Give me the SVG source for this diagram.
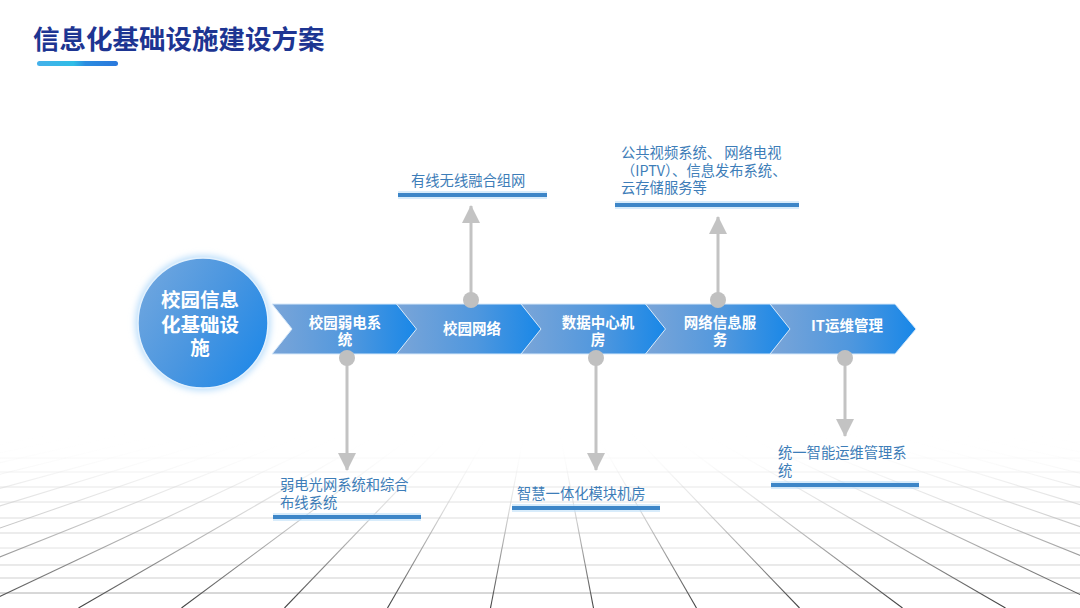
<svg xmlns="http://www.w3.org/2000/svg" width="1080" height="608" viewBox="0 0 1080 608">
<defs>
<style>
.title{font-family:"Noto Sans CJK SC","Liberation Sans",sans-serif;font-weight:700;font-size:26.5px;fill:#1d3592}
.ctext{font-family:"Noto Sans CJK SC","Liberation Sans",sans-serif;font-weight:700;font-size:19.5px;fill:#fff;text-anchor:middle}
.chtext{font-family:"Noto Sans CJK SC","Liberation Sans",sans-serif;font-weight:700;font-size:14.5px;fill:#fff;text-anchor:middle}
.label{font-family:"Noto Sans CJK SC","Liberation Sans",sans-serif;font-size:14.3px;fill:#3d7db8}
.uline{stroke:#3d86c8;stroke-width:4}
.uglow{stroke:#bfe0fa;stroke-width:8;opacity:0.6}
.conn{stroke:#c3c3c3;stroke-width:3;fill:none}
.dot{fill:#c0c0c0}
.vg{stroke:url(#vgrad);stroke-width:1.1;fill:none}
.hg{stroke:#cfcfcf;stroke-width:1;fill:none}
.chev{fill:url(#chevGrad);stroke:#d7e9fa;stroke-width:1}
</style>
<linearGradient id="vgrad" gradientUnits="userSpaceOnUse" x1="0" y1="430" x2="0" y2="608">
<stop offset="0" stop-color="#ffffff" stop-opacity="0"/>
<stop offset="0.45" stop-color="#c8c8c8" stop-opacity="0.7"/>
<stop offset="1" stop-color="#3d3d3d"/>
</linearGradient>
<linearGradient id="hfade" x1="0" y1="0" x2="0" y2="1">
<stop offset="0" stop-color="#fff" stop-opacity="1"/>
<stop offset="1" stop-color="#fff" stop-opacity="0"/>
</linearGradient>
<linearGradient id="barGrad" x1="0" y1="0" x2="1" y2="0">
<stop offset="0" stop-color="#45b0ea"/>
<stop offset="0.45" stop-color="#2fbde6"/>
<stop offset="0.6" stop-color="#2b8ce0"/>
<stop offset="1" stop-color="#2a78dc"/>
</linearGradient>
<linearGradient id="circGrad" x1="0" y1="0.2" x2="1" y2="0.8">
<stop offset="0" stop-color="#6fa6df"/>
<stop offset="0.5" stop-color="#4a96e0"/>
<stop offset="1" stop-color="#1e88e8"/>
</linearGradient>
<linearGradient id="chevGrad" x1="0" y1="0" x2="1" y2="0">
<stop offset="0" stop-color="#7aa5d8"/>
<stop offset="0.55" stop-color="#4f97de"/>
<stop offset="1" stop-color="#1787e8"/>
</linearGradient>
<filter id="glow" x="-30%" y="-30%" width="160%" height="160%">
<feGaussianBlur stdDeviation="3"/>
</filter>
<marker id="ah" markerUnits="userSpaceOnUse" markerWidth="18" markerHeight="18" viewBox="0 0 18 18" refX="17" refY="9" orient="auto">
<path d="M0,0 L18,9 L0,18 Z" fill="#c3c3c3"/>
</marker>
</defs>
<rect width="1080" height="608" fill="#ffffff"/>

<g id="grid">
<g class="hg">
<line x1="0" y1="458" x2="1080" y2="458" opacity="0.25"/>
<line x1="0" y1="472" x2="1080" y2="472" opacity="0.35"/>
<line x1="0" y1="487" x2="1080" y2="487" opacity="0.5"/>
<line x1="0" y1="502" x2="1080" y2="502" opacity="0.6"/>
<line x1="0" y1="518" x2="1080" y2="518" opacity="0.7"/>
<line x1="0" y1="533" x2="1080" y2="533" opacity="0.8"/>
<line x1="0" y1="548" x2="1080" y2="548" opacity="0.6"/>
<line x1="0" y1="565" x2="1080" y2="565" opacity="0.9"/>
<line x1="0" y1="578" x2="1080" y2="578"/>
<line x1="0" y1="593" x2="1080" y2="593" stroke="#b0b0b0"/>
</g>
<g class="vg">
<line x1="593.5" y1="608" x2="559.3" y2="430"/>
<line x1="490.5" y1="608" x2="524.7" y2="430"/>
<line x1="696.5" y1="608" x2="593.9" y2="430"/>
<line x1="387.5" y1="608" x2="490.1" y2="430"/>
<line x1="799.5" y1="608" x2="628.5" y2="430"/>
<line x1="284.5" y1="608" x2="455.5" y2="430"/>
<line x1="902.5" y1="608" x2="663.1" y2="430"/>
<line x1="181.5" y1="608" x2="420.9" y2="430"/>
<line x1="1005.5" y1="608" x2="697.7" y2="430"/>
<line x1="78.5" y1="608" x2="386.3" y2="430"/>
<line x1="1108.5" y1="608" x2="732.3" y2="430"/>
<line x1="-24.5" y1="608" x2="351.7" y2="430"/>
<line x1="1211.5" y1="608" x2="767" y2="430"/>
<line x1="-127.5" y1="608" x2="317" y2="430"/>
<line x1="1314.5" y1="608" x2="801.6" y2="430"/>
<line x1="-230.5" y1="608" x2="282.4" y2="430"/>
<line x1="1417.5" y1="608" x2="836.2" y2="430"/>
<line x1="-333.5" y1="608" x2="247.8" y2="430"/>
<line x1="1520.5" y1="608" x2="870.8" y2="430"/>
<line x1="-436.5" y1="608" x2="213.2" y2="430"/>
<line x1="1623.5" y1="608" x2="905.4" y2="430"/>
<line x1="-539.5" y1="608" x2="178.6" y2="430"/>
<line x1="1726.5" y1="608" x2="940" y2="430"/>
<line x1="-642.5" y1="608" x2="144" y2="430"/>
<line x1="1829.5" y1="608" x2="974.6" y2="430"/>
<line x1="-745.5" y1="608" x2="109.4" y2="430"/>
<line x1="1932.5" y1="608" x2="1009.2" y2="430"/>
<line x1="-848.5" y1="608" x2="74.8" y2="430"/>
<line x1="2035.5" y1="608" x2="1043.8" y2="430"/>
<line x1="-951.5" y1="608" x2="40.2" y2="430"/>
</g>
<rect x="0" y="430" width="1080" height="50" fill="url(#hfade)"/>
</g>

<g id="title">
<text class="title" x="33" y="49">信息化基础设施建设方案</text>
<rect x="37" y="61" width="81" height="5" rx="2.5" fill="url(#barGrad)"/>
</g>

<g id="connectors">
<line class="conn" x1="471" y1="300" x2="471" y2="206" marker-end="url(#ah)"/>
<line class="conn" x1="718" y1="300" x2="718" y2="217" marker-end="url(#ah)"/>
<line class="conn" x1="347" y1="358" x2="347" y2="470" marker-end="url(#ah)"/>
<line class="conn" x1="596" y1="358" x2="596" y2="470" marker-end="url(#ah)"/>
<line class="conn" x1="845" y1="358" x2="845" y2="436" marker-end="url(#ah)"/>
</g>

<g id="hub">
<circle cx="203" cy="323" r="68" fill="#bfe0fb" filter="url(#glow)"/>
<circle cx="203" cy="323" r="65" fill="url(#circGrad)" stroke="#e3f1fd" stroke-width="1.5"/>
<text class="ctext" x="200" y="307">校园信息</text>
<text class="ctext" x="200" y="332">化基础设</text>
<text class="ctext" x="200" y="355">施</text>
</g>

<g id="step1">
<path class="chev" d="M272,304 H397 L418,329 L397,354 H272 L292,329 Z"/>
<text class="chtext" x="345" y="328">校园弱电系</text>
<text class="chtext" x="345" y="345">统</text>
</g>
<g id="step2">
<path class="chev" d="M396.5,304 H521.5 L542.5,329 L521.5,354 H396.5 L416.5,329 Z"/>
<text class="chtext" x="472" y="334">校园网络</text>
</g>
<g id="step3">
<path class="chev" d="M521,304 H646 L667,329 L646,354 H521 L541,329 Z"/>
<text class="chtext" x="598" y="328">数据中心机</text>
<text class="chtext" x="598" y="345">房</text>
</g>
<g id="step4">
<path class="chev" d="M645.5,304 H770.5 L791.5,329 L770.5,354 H645.5 L665.5,329 Z"/>
<text class="chtext" x="720" y="328">网络信息服</text>
<text class="chtext" x="720" y="345">务</text>
</g>
<g id="step5">
<path class="chev" d="M770,304 H895 L916,329 L895,354 H770 L790,329 Z"/>
<text class="chtext" x="847" y="331">IT运维管理</text>
</g>

<g id="dots">
<circle class="dot" cx="471" cy="300" r="8"/>
<circle class="dot" cx="718" cy="300" r="8"/>
<circle class="dot" cx="347" cy="358" r="8"/>
<circle class="dot" cx="596" cy="358" r="8"/>
<circle class="dot" cx="845" cy="358" r="8"/>
</g>

<g id="label-up1">
<line class="uglow" x1="398" y1="195" x2="547" y2="195"/>
<line class="uline" x1="398" y1="195" x2="547" y2="195"/>
<text class="label" x="411" y="186">有线无线融合组网</text>
</g>
<g id="label-up2">
<line class="uglow" x1="615" y1="205" x2="799" y2="205"/>
<line class="uline" x1="615" y1="205" x2="799" y2="205"/>
<text class="label" x="621" y="158">公共视频系统、 网络电视</text>
<text class="label" x="621" y="176">（IPTV）、信息发布系统、</text>
<text class="label" x="621" y="193">云存储服务等</text>
</g>
<g id="label-down1">
<line class="uglow" x1="273" y1="517" x2="421" y2="517"/>
<line class="uline" x1="273" y1="517" x2="421" y2="517"/>
<text class="label" x="280" y="490">弱电光网系统和综合</text>
<text class="label" x="280" y="508">布线系统</text>
</g>
<g id="label-down2">
<line class="uglow" x1="512" y1="508" x2="660" y2="508"/>
<line class="uline" x1="512" y1="508" x2="660" y2="508"/>
<text class="label" x="517" y="499">智慧一体化模块机房</text>
</g>
<g id="label-down3">
<line class="uglow" x1="771" y1="485" x2="919" y2="485"/>
<line class="uline" x1="771" y1="485" x2="919" y2="485"/>
<text class="label" x="778" y="458">统一智能运维管理系</text>
<text class="label" x="778" y="476">统</text>
</g>
</svg>
